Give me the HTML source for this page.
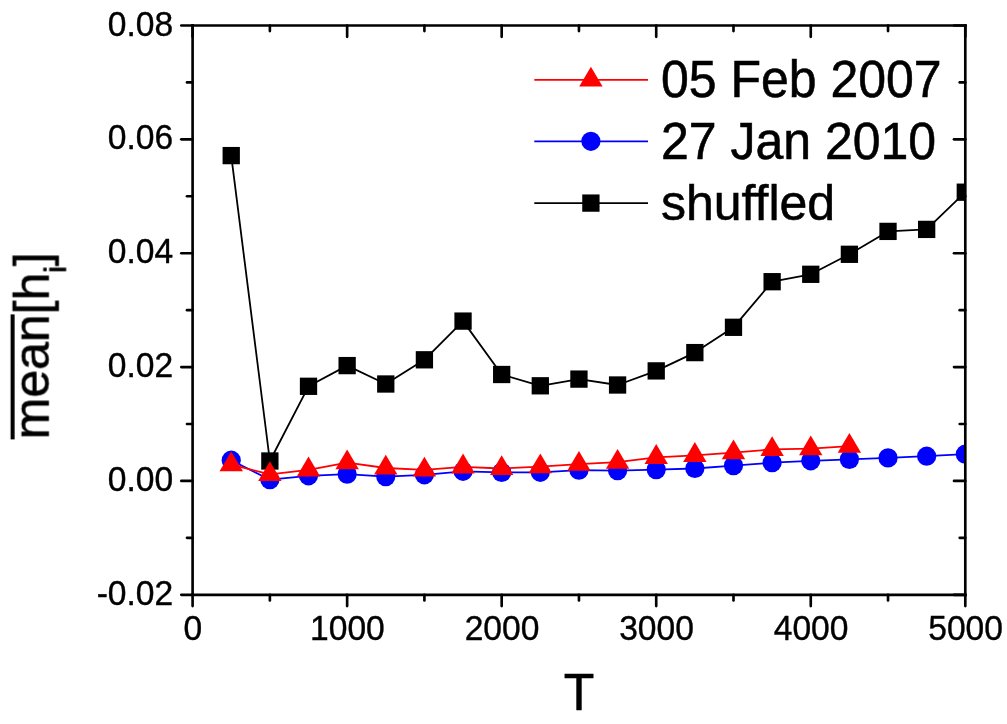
<!DOCTYPE html>
<html><head><meta charset="utf-8"><title>chart</title>
<style>html,body{margin:0;padding:0;background:#fff;overflow:hidden}svg{display:block}text{font-family:"Liberation Sans",sans-serif;fill:#000}</style>
</head><body>
<svg width="1007" height="724" viewBox="0 0 1007 724">
<rect x="0" y="0" width="1007" height="724" fill="#fff"/>
<defs><clipPath id="plot"><rect x="192.6" y="25.5" width="772.9999999999999" height="569.3"/></clipPath></defs>
<g clip-path="url(#plot)">
<polyline points="231.23,155.60 269.87,461.00 308.50,386.30 347.14,365.60 385.77,384.00 424.41,359.80 463.04,321.10 501.68,374.50 540.31,385.80 578.95,379.10 617.58,385.00 656.22,370.90 694.85,352.60 733.49,327.30 772.12,281.70 810.76,274.30 849.39,254.30 888.03,231.40 926.66,229.40 965.30,192.20" fill="none" stroke="#000" stroke-width="1.8" stroke-linejoin="round"/>
<rect x="222.58" y="146.95" width="17.3" height="17.3" fill="#000"/>
<rect x="261.22" y="452.35" width="17.3" height="17.3" fill="#000"/>
<rect x="299.86" y="377.65" width="17.3" height="17.3" fill="#000"/>
<rect x="338.49" y="356.95" width="17.3" height="17.3" fill="#000"/>
<rect x="377.12" y="375.35" width="17.3" height="17.3" fill="#000"/>
<rect x="415.76" y="351.15" width="17.3" height="17.3" fill="#000"/>
<rect x="454.39" y="312.45" width="17.3" height="17.3" fill="#000"/>
<rect x="493.03" y="365.85" width="17.3" height="17.3" fill="#000"/>
<rect x="531.66" y="377.15" width="17.3" height="17.3" fill="#000"/>
<rect x="570.30" y="370.45" width="17.3" height="17.3" fill="#000"/>
<rect x="608.93" y="376.35" width="17.3" height="17.3" fill="#000"/>
<rect x="647.57" y="362.25" width="17.3" height="17.3" fill="#000"/>
<rect x="686.20" y="343.95" width="17.3" height="17.3" fill="#000"/>
<rect x="724.84" y="318.65" width="17.3" height="17.3" fill="#000"/>
<rect x="763.48" y="273.05" width="17.3" height="17.3" fill="#000"/>
<rect x="802.11" y="265.65" width="17.3" height="17.3" fill="#000"/>
<rect x="840.75" y="245.65" width="17.3" height="17.3" fill="#000"/>
<rect x="879.38" y="222.75" width="17.3" height="17.3" fill="#000"/>
<rect x="918.01" y="220.75" width="17.3" height="17.3" fill="#000"/>
<rect x="956.65" y="183.55" width="17.3" height="17.3" fill="#000"/>
<polyline points="231.23,460.20 269.87,479.70 308.50,475.80 347.14,474.10 385.77,476.60 424.41,474.80 463.04,471.30 501.68,472.40 540.31,472.30 578.95,470.20 617.58,470.70 656.22,469.60 694.85,468.50 733.49,465.60 772.12,462.70 810.76,460.80 849.39,459.40 888.03,457.90 926.66,456.20 965.30,454.20" fill="none" stroke="#0000ff" stroke-width="1.8" stroke-linejoin="round"/>
<circle cx="231.23" cy="460.20" r="9.6" fill="#0000ff"/>
<circle cx="269.87" cy="479.70" r="9.6" fill="#0000ff"/>
<circle cx="308.50" cy="475.80" r="9.6" fill="#0000ff"/>
<circle cx="347.14" cy="474.10" r="9.6" fill="#0000ff"/>
<circle cx="385.77" cy="476.60" r="9.6" fill="#0000ff"/>
<circle cx="424.41" cy="474.80" r="9.6" fill="#0000ff"/>
<circle cx="463.04" cy="471.30" r="9.6" fill="#0000ff"/>
<circle cx="501.68" cy="472.40" r="9.6" fill="#0000ff"/>
<circle cx="540.31" cy="472.30" r="9.6" fill="#0000ff"/>
<circle cx="578.95" cy="470.20" r="9.6" fill="#0000ff"/>
<circle cx="617.58" cy="470.70" r="9.6" fill="#0000ff"/>
<circle cx="656.22" cy="469.60" r="9.6" fill="#0000ff"/>
<circle cx="694.85" cy="468.50" r="9.6" fill="#0000ff"/>
<circle cx="733.49" cy="465.60" r="9.6" fill="#0000ff"/>
<circle cx="772.12" cy="462.70" r="9.6" fill="#0000ff"/>
<circle cx="810.76" cy="460.80" r="9.6" fill="#0000ff"/>
<circle cx="849.39" cy="459.40" r="9.6" fill="#0000ff"/>
<circle cx="888.03" cy="457.90" r="9.6" fill="#0000ff"/>
<circle cx="926.66" cy="456.20" r="9.6" fill="#0000ff"/>
<circle cx="965.30" cy="454.20" r="9.6" fill="#0000ff"/>
<polyline points="231.23,464.70 269.87,474.40 308.50,469.80 347.14,462.70 385.77,468.00 424.41,469.90 463.04,466.80 501.68,468.50 540.31,466.60 578.95,464.20 617.58,462.10 656.22,457.30 694.85,455.30 733.49,452.70 772.12,449.40 810.76,448.60 849.39,446.10" fill="none" stroke="#ff0000" stroke-width="1.8" stroke-linejoin="round"/>
<polygon points="231.23,451.50 219.53,471.30 242.93,471.30" fill="#ff0000"/>
<polygon points="269.87,461.20 258.17,481.00 281.57,481.00" fill="#ff0000"/>
<polygon points="308.50,456.60 296.81,476.40 320.20,476.40" fill="#ff0000"/>
<polygon points="347.14,449.50 335.44,469.30 358.84,469.30" fill="#ff0000"/>
<polygon points="385.77,454.80 374.07,474.60 397.47,474.60" fill="#ff0000"/>
<polygon points="424.41,456.70 412.71,476.50 436.11,476.50" fill="#ff0000"/>
<polygon points="463.04,453.60 451.34,473.40 474.74,473.40" fill="#ff0000"/>
<polygon points="501.68,455.30 489.98,475.10 513.38,475.10" fill="#ff0000"/>
<polygon points="540.31,453.40 528.61,473.20 552.01,473.20" fill="#ff0000"/>
<polygon points="578.95,451.00 567.25,470.80 590.65,470.80" fill="#ff0000"/>
<polygon points="617.58,448.90 605.88,468.70 629.28,468.70" fill="#ff0000"/>
<polygon points="656.22,444.10 644.52,463.90 667.92,463.90" fill="#ff0000"/>
<polygon points="694.85,442.10 683.15,461.90 706.55,461.90" fill="#ff0000"/>
<polygon points="733.49,439.50 721.79,459.30 745.19,459.30" fill="#ff0000"/>
<polygon points="772.12,436.20 760.42,456.00 783.83,456.00" fill="#ff0000"/>
<polygon points="810.76,435.40 799.06,455.20 822.46,455.20" fill="#ff0000"/>
<polygon points="849.39,432.90 837.69,452.70 861.10,452.70" fill="#ff0000"/>
</g>
<g stroke="#000" stroke-width="2.65" stroke-linecap="butt" fill="none">
<line x1="191.275" y1="25.5" x2="966.625" y2="25.5"/>
<line x1="191.275" y1="594.8" x2="966.625" y2="594.8"/>
<line x1="192.6" y1="24.175" x2="192.6" y2="596.125"/>
<line x1="965.3" y1="24.175" x2="965.3" y2="596.125"/>
</g>
<g stroke="#000" stroke-width="2.65" stroke-linecap="round" fill="none">
<line x1="192.60" y1="594.8" x2="192.60" y2="606.0999999999999"/>
<line x1="192.60" y1="25.5" x2="192.60" y2="36.8"/>
<line x1="269.87" y1="594.8" x2="269.87" y2="600.4"/>
<line x1="269.87" y1="25.5" x2="269.87" y2="31.1"/>
<line x1="347.14" y1="594.8" x2="347.14" y2="606.0999999999999"/>
<line x1="347.14" y1="25.5" x2="347.14" y2="36.8"/>
<line x1="424.41" y1="594.8" x2="424.41" y2="600.4"/>
<line x1="424.41" y1="25.5" x2="424.41" y2="31.1"/>
<line x1="501.68" y1="594.8" x2="501.68" y2="606.0999999999999"/>
<line x1="501.68" y1="25.5" x2="501.68" y2="36.8"/>
<line x1="578.95" y1="594.8" x2="578.95" y2="600.4"/>
<line x1="578.95" y1="25.5" x2="578.95" y2="31.1"/>
<line x1="656.22" y1="594.8" x2="656.22" y2="606.0999999999999"/>
<line x1="656.22" y1="25.5" x2="656.22" y2="36.8"/>
<line x1="733.49" y1="594.8" x2="733.49" y2="600.4"/>
<line x1="733.49" y1="25.5" x2="733.49" y2="31.1"/>
<line x1="810.76" y1="594.8" x2="810.76" y2="606.0999999999999"/>
<line x1="810.76" y1="25.5" x2="810.76" y2="36.8"/>
<line x1="888.03" y1="594.8" x2="888.03" y2="600.4"/>
<line x1="888.03" y1="25.5" x2="888.03" y2="31.1"/>
<line x1="965.30" y1="594.8" x2="965.30" y2="606.0999999999999"/>
<line x1="965.30" y1="25.5" x2="965.30" y2="36.8"/>
<line x1="192.6" y1="594.80" x2="181.29999999999998" y2="594.80"/>
<line x1="965.3" y1="594.80" x2="954.0" y2="594.80"/>
<line x1="192.6" y1="537.87" x2="187.0" y2="537.87"/>
<line x1="965.3" y1="537.87" x2="959.6999999999999" y2="537.87"/>
<line x1="192.6" y1="480.94" x2="181.29999999999998" y2="480.94"/>
<line x1="965.3" y1="480.94" x2="954.0" y2="480.94"/>
<line x1="192.6" y1="424.01" x2="187.0" y2="424.01"/>
<line x1="965.3" y1="424.01" x2="959.6999999999999" y2="424.01"/>
<line x1="192.6" y1="367.08" x2="181.29999999999998" y2="367.08"/>
<line x1="965.3" y1="367.08" x2="954.0" y2="367.08"/>
<line x1="192.6" y1="310.15" x2="187.0" y2="310.15"/>
<line x1="965.3" y1="310.15" x2="959.6999999999999" y2="310.15"/>
<line x1="192.6" y1="253.22" x2="181.29999999999998" y2="253.22"/>
<line x1="965.3" y1="253.22" x2="954.0" y2="253.22"/>
<line x1="192.6" y1="196.29" x2="187.0" y2="196.29"/>
<line x1="965.3" y1="196.29" x2="959.6999999999999" y2="196.29"/>
<line x1="192.6" y1="139.36" x2="181.29999999999998" y2="139.36"/>
<line x1="965.3" y1="139.36" x2="954.0" y2="139.36"/>
<line x1="192.6" y1="82.43" x2="187.0" y2="82.43"/>
<line x1="965.3" y1="82.43" x2="959.6999999999999" y2="82.43"/>
<line x1="192.6" y1="25.50" x2="181.29999999999998" y2="25.50"/>
<line x1="965.3" y1="25.50" x2="954.0" y2="25.50"/>
</g>
<g style="will-change:opacity;opacity:0.999">
<text transform="translate(173.20,604.80) scale(1,1.04)" font-size="33.6" stroke="#000" stroke-width="0.37" text-anchor="end">-0.02</text>
<text transform="translate(173.20,490.94) scale(1,1.04)" font-size="33.6" stroke="#000" stroke-width="0.37" text-anchor="end">0.00</text>
<text transform="translate(173.20,377.08) scale(1,1.04)" font-size="33.6" stroke="#000" stroke-width="0.37" text-anchor="end">0.02</text>
<text transform="translate(173.20,263.22) scale(1,1.04)" font-size="33.6" stroke="#000" stroke-width="0.37" text-anchor="end">0.04</text>
<text transform="translate(173.20,149.36) scale(1,1.04)" font-size="33.6" stroke="#000" stroke-width="0.37" text-anchor="end">0.06</text>
<text transform="translate(173.20,35.50) scale(1,1.04)" font-size="33.6" stroke="#000" stroke-width="0.37" text-anchor="end">0.08</text>
<text transform="translate(192.90,640.00) scale(1,1.04)" font-size="33.6" stroke="#000" stroke-width="0.37" text-anchor="middle">0</text>
<text transform="translate(347.44,640.00) scale(1,1.04)" font-size="33.6" stroke="#000" stroke-width="0.37" text-anchor="middle">1000</text>
<text transform="translate(501.98,640.00) scale(1,1.04)" font-size="33.6" stroke="#000" stroke-width="0.37" text-anchor="middle">2000</text>
<text transform="translate(656.52,640.00) scale(1,1.04)" font-size="33.6" stroke="#000" stroke-width="0.37" text-anchor="middle">3000</text>
<text transform="translate(811.06,640.00) scale(1,1.04)" font-size="33.6" stroke="#000" stroke-width="0.37" text-anchor="middle">4000</text>
<text transform="translate(965.60,640.00) scale(1,1.04)" font-size="33.6" stroke="#000" stroke-width="0.37" text-anchor="middle">5000</text>
<text transform="translate(579.10,710.30) scale(1,1.04)" font-size="50" stroke="#000" stroke-width="0.55" text-anchor="middle">T</text>
<g transform="translate(48.7,439.4) rotate(-90)"><text x="0" y="0" font-size="50" stroke="#000" stroke-width="0.55">mean[h<tspan font-size="28.8" dy="17.4" stroke-width="0.9">i</tspan><tspan font-size="50" dy="-17.4">]</tspan></text><rect x="0" y="-38.1" width="125" height="4" fill="#000"/></g>
</g>
<line x1="534.3" y1="79.95" x2="648.0" y2="79.95" stroke="#ff0000" stroke-width="1.8"/>
<polygon points="590.90,66.75 579.20,86.55 602.60,86.55" fill="#ff0000"/>
<line x1="534.3" y1="141.3" x2="648.0" y2="141.3" stroke="#0000ff" stroke-width="1.8"/>
<circle cx="590.90" cy="141.30" r="9.6" fill="#0000ff"/>
<line x1="534.3" y1="203.1" x2="648.0" y2="203.1" stroke="#000" stroke-width="1.8"/>
<rect x="582.25" y="194.45" width="17.3" height="17.3" fill="#000"/>
<text transform="translate(660.90,97.30) scale(1,1.04)" font-size="50" stroke="#000" stroke-width="0.55">05 Feb 2007</text>
<text transform="translate(660.90,159.30) scale(1,1.04)" font-size="50" stroke="#000" stroke-width="0.55">27 Jan 2010</text>
<text transform="translate(660.90,219.90) scale(1,1.0)" font-size="50" stroke="#000" stroke-width="0.55">shuffled</text>
</svg></body></html>
